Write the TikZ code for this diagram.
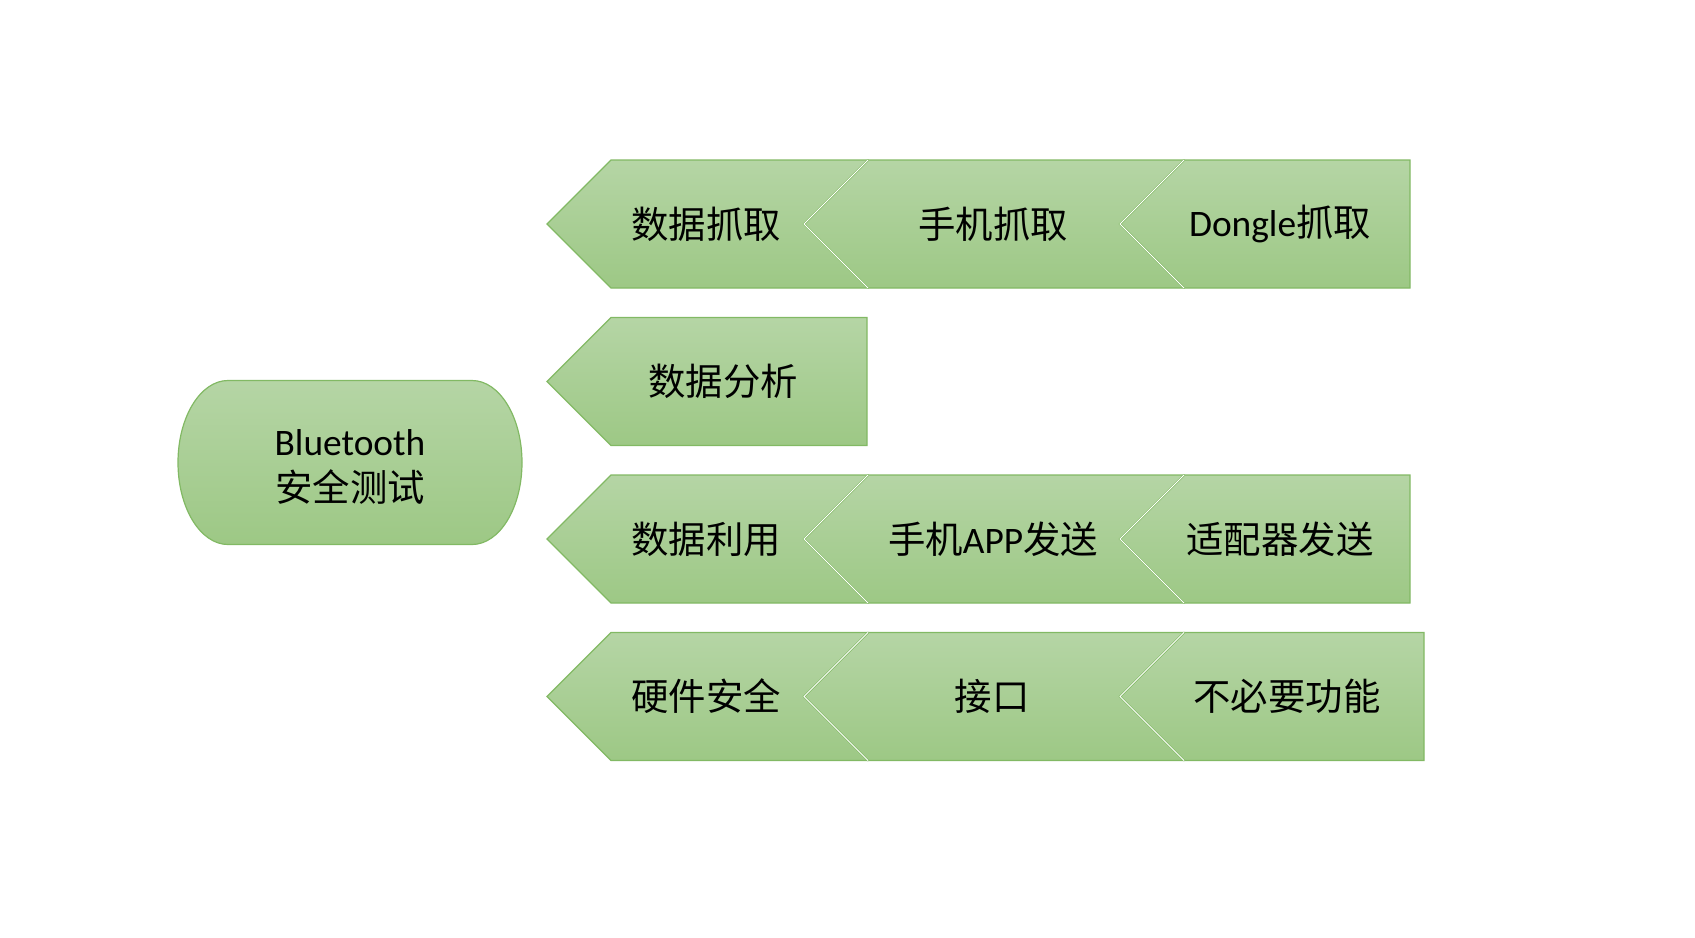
\documentclass[tikz,border=0pt]{standalone}
\usepackage{fontspec}
\setmainfont{Carlito}
\newfontfamily\cjk{Noto Sans CJK SC}
\definecolor{chevtop}{RGB}{181,213,165}
\definecolor{chevbot}{RGB}{157,200,133}
\definecolor{chevline}{RGB}{130,185,100}
\tikzset{every picture/.style={line width=0.6pt}}

\begin{document}
\begin{tikzpicture}[
            x=0.5pt,
            y=0.5pt,
            yscale=-1,
            xscale=1,
            chevfill/.style={top color=chevtop,bottom color=chevbot,draw=chevline,line width=0.6pt},
            notchline/.style={draw=chevline,double=white,double distance=0.45pt,line width=0.3pt},
            chevtext/.style={inner sep=0.75pt,text=black,font=\fontsize{18.7}{23}\selectfont}
        ]
            \useasboundingbox (0,0) rectangle (1695,937);

            % start shape
            \draw [chevfill] (228,380.5) -- (472,380.5) arc [start angle=-90,end angle=90,x radius=50,y radius=82] -- (228,544.5) arc [start angle=90,end angle=270,x radius=50,y radius=82] -- cycle;

            % row 1
            \draw [chevfill] (547,224) -- (611,160) -- (868,160) -- (868,288) -- (611,288) -- cycle;
            \draw [chevfill] (804,224) -- (868,160) -- (1184,160) -- (1184,288) -- (868,288) -- cycle;
            \draw [notchline] (868,160) -- (804,224) -- (868,288);
            \draw [chevfill] (1120,224) -- (1184,160) -- (1410,160) -- (1410,288) -- (1184,288) -- cycle;
            \draw [notchline] (1184,160) -- (1120,224) -- (1184,288);

            % row 2
            \draw [chevfill] (547,381.5) -- (611,317.5) -- (867,317.5) -- (867,445.5) -- (611,445.5) -- cycle;

            % row 3
            \draw [chevfill] (547,539) -- (611,475) -- (868,475) -- (868,603) -- (611,603) -- cycle;
            \draw [chevfill] (804,539) -- (868,475) -- (1184,475) -- (1184,603) -- (868,603) -- cycle;
            \draw [notchline] (868,475) -- (804,539) -- (868,603);
            \draw [chevfill] (1120,539) -- (1184,475) -- (1410,475) -- (1410,603) -- (1184,603) -- cycle;
            \draw [notchline] (1184,475) -- (1120,539) -- (1184,603);

            % row 4
            \draw [chevfill] (547,696.5) -- (611,632.5) -- (868,632.5) -- (868,760.5) -- (611,760.5) -- cycle;
            \draw [chevfill] (804,696.5) -- (868,632.5) -- (1184,632.5) -- (1184,760.5) -- (868,760.5) -- cycle;
            \draw [notchline] (868,632.5) -- (804,696.5) -- (868,760.5);
            \draw [chevfill] (1120,696.5) -- (1184,632.5) -- (1424,632.5) -- (1424,760.5) -- (1184,760.5) -- cycle;
            \draw [notchline] (1184,632.5) -- (1120,696.5) -- (1184,760.5);

            \node [chevtext,align=center] (bt) at (350,467) {Bluetooth\\{\cjk 安全测试}};

            \node [chevtext] (grab) at (706,224) {\cjk 数据抓取};
            \node [chevtext] (grabphone) at (993,224) {\cjk 手机抓取};
            \node [chevtext] (grabdongle) at (1280,224) {Dongle{\cjk 抓取}};

            \node [chevtext] (analyse) at (723,381.5) {\cjk 数据分析};

            \node [chevtext] (exploit) at (706,539) {\cjk 数据利用};
            \node [chevtext] (exploitapp) at (993,539) {{\cjk 手机}APP{\cjk 发送}};
            \node [chevtext] (exploitadapter) at (1280,539) {\cjk 适配器发送};

            \node [chevtext] (hw) at (706,696.5) {\cjk 硬件安全};
            \node [chevtext] (hwport) at (992,696.5) {\cjk 接口};
            \node [chevtext] (hwfunc) at (1287,696.5) {\cjk 不必要功能};
        \end{tikzpicture}
\end{document}
